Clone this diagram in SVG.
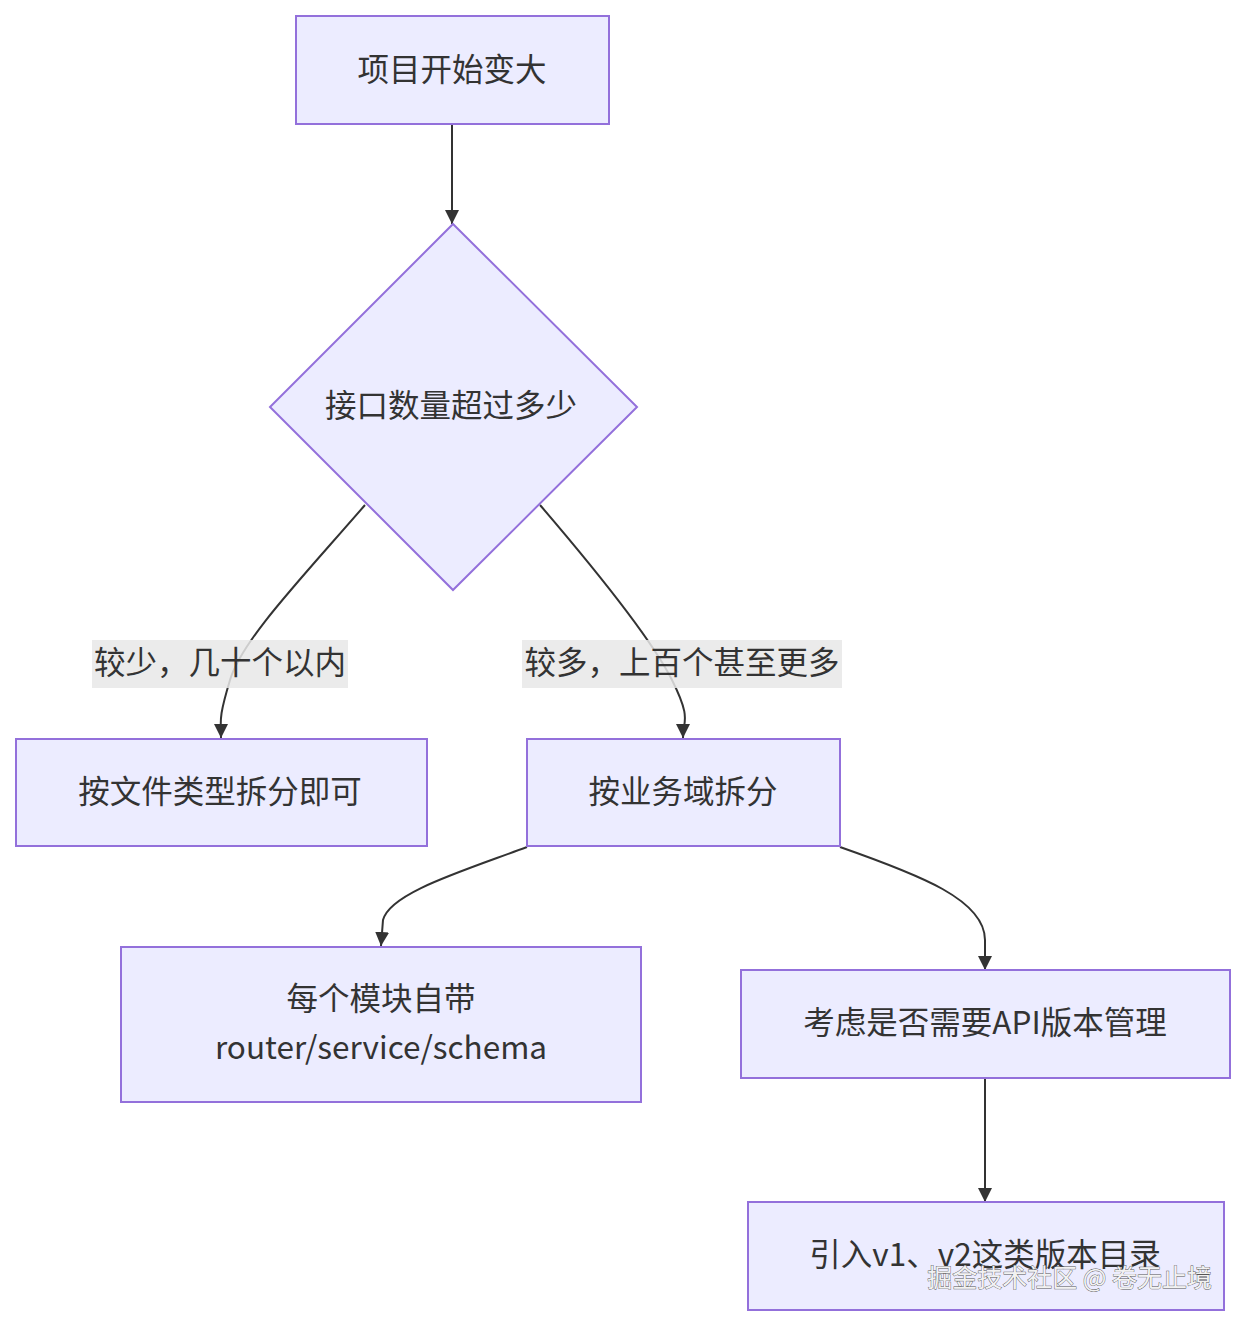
<svg xmlns="http://www.w3.org/2000/svg" width="1246" height="1326" viewBox="0 0 1246 1326">
<defs>
<style>
.node rect,.node polygon{fill:#ECECFF;stroke:#9370DB;stroke-width:2}
.t{font-family:"Noto Sans CJK SC","Noto Sans",sans-serif;font-size:31.5px;fill:#333;text-anchor:middle;dominant-baseline:central}
.edge{fill:none;stroke:#333;stroke-width:2}
.lbl{fill:rgba(232,232,232,0.85)}
.wm{font-family:"Noto Sans CJK SC",sans-serif;font-size:25px;fill:#f2f2f2;stroke:#555;stroke-width:0.8;paint-order:stroke}
</style>
<marker id="arr" viewBox="0 0 10 10" refX="10" refY="5" markerWidth="7" markerHeight="7" orient="auto" markerUnits="strokeWidth"><path d="M0,0 L10,5 L0,10 z" fill="#333"/></marker>
</defs>
<rect width="1246" height="1326" fill="#fff"/>
<g id="edges">
<path class="edge" d="M452,124 L452,224" marker-end="url(#arr)"/>
<path class="edge" d="M365,505 C300,580 242,640 230,680 S221,720 221,738" marker-end="url(#arr)"/>
<path class="edge" d="M540,505 C600,575 652,640 672,680 S683,720 683,738" marker-end="url(#arr)"/>
<path class="edge" d="M527,847 C460,872 390,893 383,920 L381,946" marker-end="url(#arr)"/>
<path class="edge" d="M840,847 C920,875 985,900 985,940 L985,970" marker-end="url(#arr)"/>
<path class="edge" d="M985,1078 L985,1202" marker-end="url(#arr)"/>
<rect class="lbl" x="92" y="640" width="256" height="48"/>
<text class="t" x="220" y="660">较少，几十个以内</text>
<rect class="lbl" x="522" y="640" width="320" height="48"/>
<text class="t" x="682" y="660">较多，上百个甚至更多</text>
</g>
<g id="A" class="node"><rect x="296" y="16" width="313" height="108"/><text class="t" x="452" y="67">项目开始变大</text></g>
<g id="B" class="node"><polygon points="453,224 637,407 453,590 270,407"/><text class="t" x="451" y="403">接口数量超过多少</text></g>
<g id="C" class="node"><rect x="16" y="739" width="411" height="107"/><text class="t" x="220" y="789">按文件类型拆分即可</text></g>
<g id="D" class="node"><rect x="527" y="739" width="313" height="107"/><text class="t" x="683" y="789">按业务域拆分</text></g>
<g id="E" class="node"><rect x="121" y="947" width="520" height="155"/><text class="t" x="381" y="996">每个模块自带</text><text class="t" x="381" y="1045">router/service/schema</text></g>
<g id="F" class="node"><rect x="741" y="970" width="489" height="108"/><text class="t" x="985" y="1020">考虑是否需要API版本管理</text></g>
<g id="G" class="node"><rect x="748" y="1202" width="476" height="108"/><text class="t" x="985" y="1252">引入v1、v2这类版本目录</text></g>
<text class="wm" x="1212" y="1287" text-anchor="end">掘金技术社区 @ 卷无止境</text>
</svg>
